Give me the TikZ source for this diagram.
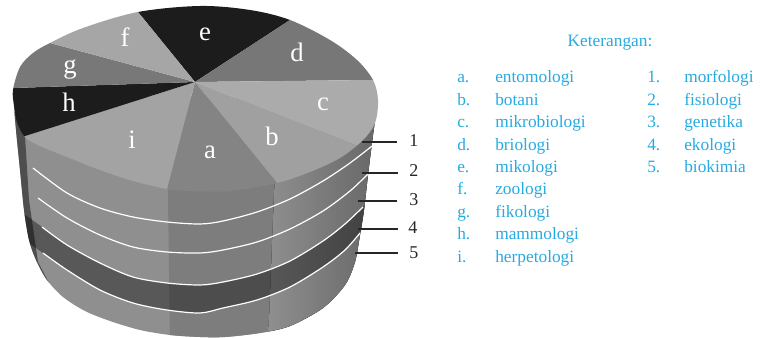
\documentclass[tikz,border=0pt]{standalone}
\usepackage{fontspec}
\setmainfont{Liberation Serif}
\usetikzlibrary{calc}
\definecolor{legblue}{HTML}{27AAE1}
\definecolor{wE}{HTML}{1C1C1C}
\definecolor{wD}{HTML}{777777}
\definecolor{wC}{HTML}{ABABAB}
\definecolor{wB}{HTML}{A0A0A0}
\definecolor{wA}{HTML}{848484}
\definecolor{wI}{HTML}{A3A3A3}
\definecolor{wH}{HTML}{1C1C1C}
\definecolor{wG}{HTML}{787878}
\definecolor{wF}{HTML}{A6A6A6}
\definecolor{sideI}{HTML}{8F8F8F}
\definecolor{sideA}{HTML}{7D7D7D}
\definecolor{sideL}{HTML}{4E4E4E}
\begin{document}
\begin{tikzpicture}[x=0.75pt,y=-0.75pt,
  wlabel/.style={text=white, font=\fontsize{20}{24}\selectfont, inner sep=0pt},
  leg/.style={text=legblue, font=\fontsize{13}{15}\selectfont, anchor=base west, inner sep=0pt},
  legtitle/.style={text=legblue, font=\fontsize{13}{15}\selectfont, anchor=base, inner sep=0pt},
  num/.style={font=\fontsize{13.5}{16}\selectfont, anchor=west, inner sep=0pt, text=black!85},
  labline/.style={draw=black!85, line width=0.8pt},
  layerline/.style={draw=white, line width=0.9pt},
]
\useasboundingbox (0,0) rectangle (763,338);

% ---------- side of the cylinder ----------
\def\sidepath{plot[smooth, tension=0.5] coordinates {(13,95) (16,130) (20,170) (24,210) (29,240) (36,260) (47,280) (63,297) (85,311) (110,321) (140,330) (170,335) (200,337) (225,337) (260,333) (290,326) (323,308) (345,285) (355,262) (360,235) (364,210) (368,175) (373,135) (378,100)} -- cycle}
\fill[sideI] \sidepath;
\begin{scope}
  \clip \sidepath;
  % facets
  \fill[sideA] (167,120) -- (277,120) -- (268,345) -- (170,345) -- cycle;
  \fill[left color=black!44, right color=black!62] (277,120) -- (395,120) -- (395,345) -- (268,345) -- cycle;
  \fill[sideL] (0,80) -- (25,136) -- (29,200) -- (38,262) -- (58,300) -- (0,300) -- cycle;
  % dark layer (between lines 3 and 4)
  \fill[black, opacity=0.38] plot[smooth, tension=0.5] coordinates {(10,204) (42,227) (67,245) (100,263) (133,277) (167,283) (200,285) (223,282) (257,274) (290,261) (323,241) (345,224) (363,207) (390,182)}
     -- plot[smooth, tension=0.5] coordinates {(390,199) (360,233) (345,250) (323,267) (290,287) (257,300) (223,308) (200,313) (167,310) (133,303) (100,290) (67,270) (43,253) (10,230)} -- cycle;
\end{scope}

% ---------- white layer lines ----------
\draw[layerline] plot[smooth, tension=0.5] coordinates {(33,168) (67,193) (100,208) (133,217) (167,222) (200,224) (223,221) (257,212) (290,199) (323,181) (350,163) (372,146)};
\draw[layerline] plot[smooth, tension=0.5] coordinates {(38,198) (67,218) (100,235) (133,247) (167,252) (200,253) (223,250) (257,242) (290,229) (323,211) (350,191) (368,174)};
\draw[layerline] plot[smooth, tension=0.5] coordinates {(42,227) (67,245) (100,263) (133,277) (167,283) (200,285) (223,282) (257,274) (290,261) (323,241) (345,224) (363,207)};
\draw[layerline] plot[smooth, tension=0.5] coordinates {(43,253) (67,270) (100,290) (133,303) (167,310) (200,313) (223,308) (257,300) (290,287) (323,267) (345,250) (360,233)};

% ---------- top face (pie) ----------
\def\topface{plot[smooth cycle, tension=0.55] coordinates {(13,90) (20,67) (33,53) (50,43) (83,28) (138,12) (200,6) (250,10) (290,20) (330,40) (357,60) (373,80) (378,100) (375,123) (363,140) (340,158) (310,172) (277,183) (230,191) (190,191) (167,189) (133,181) (100,170) (67,157) (40,146) (25,137) (17,122) (14,105)}}
\coordinate (A) at (195,82);
\coordinate (Pef) at (138,12);
\coordinate (Ped) at (290,20);
\coordinate (Pdc) at (373,80);
\coordinate (Pcb) at (355,145);
\coordinate (Pba) at (277,183);
\coordinate (Pai) at (167,189);
\coordinate (Pih) at (25,136);
\coordinate (Phg) at (13,88);
\coordinate (Pgf) at (50,43);
\begin{scope}
  \clip \topface;
  \fill[wE] (A) -- ($(A)!3!(Ped)$) -- ($(A)!3!(Pef)$) -- cycle;
  \fill[wD] (A) -- ($(A)!3!(Pdc)$) -- ($(A)!3!(Ped)$) -- cycle;
  \fill[wC] (A) -- ($(A)!3!(Pcb)$) -- ($(A)!3!(Pdc)$) -- cycle;
  \fill[wB] (A) -- ($(A)!3!(Pba)$) -- ($(A)!3!(Pcb)$) -- cycle;
  \fill[wA] (A) -- ($(A)!3!(Pai)$) -- ($(A)!3!(Pba)$) -- cycle;
  \fill[wI] (A) -- ($(A)!3!(Pih)$) -- ($(A)!3!(Pai)$) -- cycle;
  \fill[wH] (A) -- ($(A)!3!(Phg)$) -- ($(A)!3!(Pih)$) -- cycle;
  \fill[wG] (A) -- ($(A)!3!(Pgf)$) -- ($(A)!3!(Phg)$) -- cycle;
  \fill[wF] (A) -- ($(A)!3!(Pef)$) -- ($(A)!3!(Pgf)$) -- cycle;
\end{scope}

% ---------- wedge letters ----------
\node[wlabel] (le) at (205,34) {e};
\node[wlabel] (ld) at (297,52) {d};
\node[wlabel] (lc) at (323,104) {c};
\node[wlabel] (lb) at (272,136) {b};
\node[wlabel] (la) at (210,152) {a};
\node[wlabel] (li) at (132,140) {i};
\node[wlabel] (lh) at (69,102) {h};
\node[wlabel] (lg) at (70,70) {g};
\node[wlabel] (lf) at (125,37) {f};

% ---------- layer pointers ----------
\coordinate (s1) at (362,142);
\coordinate (s2) at (362,173);
\coordinate (s3) at (358,201);
\coordinate (s4) at (358,229);
\coordinate (s5) at (355,253);
\node[num] (n1) at (409,141) {1};
\node[num] (n2) at (409,171) {2};
\node[num] (n3) at (409,200) {3};
\node[num] (n4) at (408,228) {4};
\node[num] (n5) at (409,253) {5};
\draw[labline] (s1) -- ($(s1 -| n1.west)+(-12,0)$);
\draw[labline] (s2) -- ($(s2 -| n2.west)+(-11,0)$);
\draw[labline] (s3) -- ($(s3 -| n3.west)+(-12,0)$);
\draw[labline] (s4) -- ($(s4 -| n4.west)+(-10,0)$);
\draw[labline] (s5) -- ($(s5 -| n5.west)+(-11,0)$);

% ---------- legend ----------
\node[legtitle] (kt) at (610,47) {Keterangan:};
\node[leg] (ka) at (457,83) {a.};   \node[leg] (ta) at (495,83) {entomologi};
\node[leg] (kb) at (457,105.4) {b.}; \node[leg] (tb) at (495,105.4) {botani};
\node[leg] (kc) at (457,127.8) {c.}; \node[leg] (tc) at (495,127.8) {mikrobiologi};
\node[leg] (kd) at (457,150.2) {d.}; \node[leg] (td) at (495,150.2) {briologi};
\node[leg] (ke) at (457,172.6) {e.}; \node[leg] (te) at (495,172.6) {mikologi};
\node[leg] (kf) at (457,195) {f.};   \node[leg] (tf) at (495,195) {zoologi};
\node[leg] (kg) at (457,217.4) {g.}; \node[leg] (tg) at (495,217.4) {fikologi};
\node[leg] (kh) at (457,239.8) {h.}; \node[leg] (th) at (495,239.8) {mammologi};
\node[leg] (ki) at (457,262.2) {i.}; \node[leg] (ti) at (495,262.2) {herpetologi};
\node[leg] (k1) at (647,83) {1.};    \node[leg] (t1) at (684,83) {morfologi};
\node[leg] (k2) at (647,105.4) {2.}; \node[leg] (t2) at (684,105.4) {fisiologi};
\node[leg] (k3) at (647,127.8) {3.}; \node[leg] (t3) at (684,127.8) {genetika};
\node[leg] (k4) at (647,150.2) {4.}; \node[leg] (t4) at (684,150.2) {ekologi};
\node[leg] (k5) at (647,172.6) {5.}; \node[leg] (t5) at (684,172.6) {biokimia};
\end{tikzpicture}
\end{document}
